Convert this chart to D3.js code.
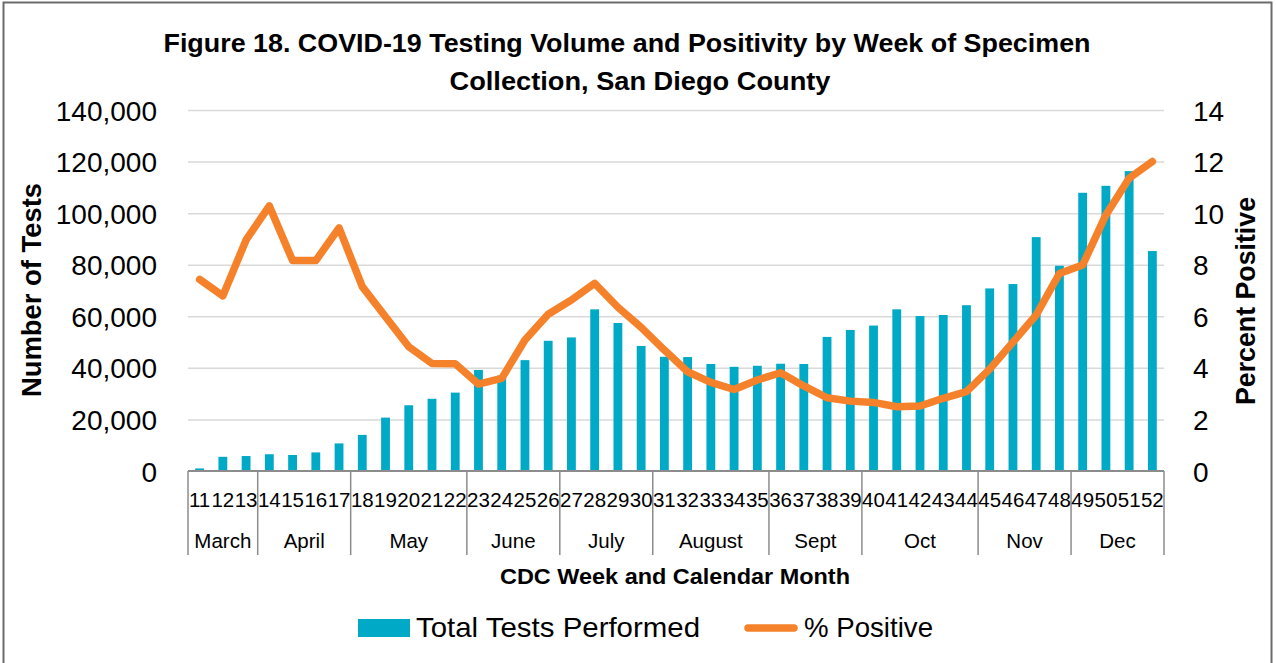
<!DOCTYPE html>
<html>
<head>
<meta charset="utf-8">
<script src="https://cdn.jsdelivr.net/npm/d3@7/dist/d3.min.js"></script>
<style>
  html, body { margin: 0; padding: 0; background: #fff; }
  svg { display: block; font-family: "Liberation Sans", Arial, sans-serif; }
</style>
</head>
<body>
<svg id="chart" width="1276" height="663"></svg>
<script>
// ---- data ----
const weeks = ["11","12","13","14","15","16","17","18","19","20","21","22","23","24","25","26","27","28","29","30","31","32","33","34","35","36","37","38","39","40","41","42","43","44","45","46","47","48","49","50","51","52"];
const totalTests = [1000,5500,5800,6500,6200,7200,10700,14000,20700,25500,28000,30400,39200,37000,43000,50500,51800,62700,57400,48500,44300,44200,41500,40400,40800,41600,41500,52000,54700,56400,62700,60100,60500,64300,70800,72500,90700,79600,107900,110600,116300,85300];
const pctPositive = [7.43,6.79,8.96,10.28,8.16,8.16,9.43,7.15,5.98,4.82,4.17,4.16,3.37,3.59,5.08,6.08,6.63,7.28,6.35,5.57,4.69,3.85,3.44,3.16,3.53,3.81,3.30,2.84,2.71,2.66,2.49,2.52,2.82,3.08,3.95,5.00,6.05,7.66,7.99,9.93,11.35,12.00];
const months = ["March","April","May","June","July","August","Sept","Oct","Nov","Dec"];
const monthFirstWeek = ["11","14","18","23","27","31","36","40","45","49"];
const monthLastWeek = ["13","17","22","26","30","35","39","44","48","52"];
const leftTicks = [0,20000,40000,60000,80000,100000,120000,140000];
const rightTicks = [0,2,4,6,8,10,12,14];

// ---- layout ----
const svg = d3.select("#chart");
const X0 = 188, X1 = 1164, Y0 = 471, Y1 = 110;
const barColor = "#00AAC6", lineColor = "#F5822A";

svg.append("rect").attr("x", 3.5).attr("y", 2.5).attr("width", 1268).attr("height", 700)
  .attr("fill", "#fff").attr("stroke", "#6b6b6b").attr("stroke-width", 2);

const x = d3.scaleBand().domain(weeks).range([X0, X1]).paddingInner(0.62).paddingOuter(0.31);
const yL = d3.scaleLinear().domain([0, 140000]).range([Y0, Y1]);
const yR = d3.scaleLinear().domain([0, 14]).range([Y0, Y1]);
const cx = w => x(w) + x.bandwidth() / 2;
const step = x.step();

function fit(sel, len) { sel.attr("textLength", len).attr("lengthAdjust", "spacingAndGlyphs"); return sel; }

// gridlines
const gridAxis = d3.axisLeft(yL).tickValues(leftTicks.slice(1)).tickSize(-(X1 - X0)).tickFormat("");
svg.append("g").attr("transform", `translate(${X0},0)`).call(gridAxis)
  .call(g => g.select(".domain").remove())
  .call(g => g.selectAll("line").attr("stroke", "#d9d9d9").attr("stroke-width", 1.5));

// left axis labels
svg.append("g").attr("transform", `translate(${X0},0)`)
  .call(d3.axisLeft(yL).tickValues(leftTicks).tickSize(0).tickPadding(31).tickFormat(d3.format(",")))
  .call(g => g.select(".domain").remove())
  .call(g => g.selectAll("text").attr("font-size", 28).attr("fill", "#000").attr("font-family", "Liberation Sans, Arial, sans-serif").attr("dy", "0.36em"));

// right axis labels
svg.append("g").attr("transform", `translate(${X1},0)`)
  .call(d3.axisRight(yR).tickValues(rightTicks).tickSize(0).tickPadding(29).tickFormat(d3.format("d")))
  .call(g => g.select(".domain").remove())
  .call(g => g.selectAll("text").attr("font-size", 28).attr("fill", "#000").attr("font-family", "Liberation Sans, Arial, sans-serif").attr("dy", "0.36em"));

// bars
svg.append("g").selectAll("rect").data(weeks).join("rect")
  .attr("x", w => x(w)).attr("width", x.bandwidth())
  .attr("y", (w, i) => yL(totalTests[i]))
  .attr("height", (w, i) => Y0 - yL(totalTests[i]))
  .attr("fill", barColor);

// x axis line
svg.append("line").attr("x1", X0).attr("x2", X1).attr("y1", Y0).attr("y2", Y0)
  .attr("stroke", "#8c8c8c").attr("stroke-width", 2);

// month separators
const bounds = monthFirstWeek.map(w => x(w) - (step - x.bandwidth()) / 2).concat([X1]);
svg.append("g").selectAll("line").data(bounds).join("line")
  .attr("x1", d => d).attr("x2", d => d).attr("y1", Y0).attr("y2", 555)
  .attr("stroke", "#8c8c8c").attr("stroke-width", 1.5);

// week labels
svg.append("g").selectAll("text").data(weeks).join("text")
  .attr("x", w => cx(w)).attr("y", 507).attr("text-anchor", "middle")
  .attr("font-size", 20.5).attr("fill", "#000").text(w => w);

// month labels
svg.append("g").selectAll("text").data(months).join("text")
  .attr("x", (m, i) => (cx(monthFirstWeek[i]) + cx(monthLastWeek[i])) / 2)
  .attr("y", 548).attr("text-anchor", "middle")
  .attr("font-size", 20.5).attr("fill", "#000").text(m => m);

// line
const line = d3.line().x((d, i) => cx(weeks[i])).y(d => yR(d));
svg.append("path").datum(pctPositive).attr("d", line)
  .attr("fill", "none").attr("stroke", lineColor).attr("stroke-width", 7.5)
  .attr("stroke-linejoin", "round").attr("stroke-linecap", "round");

// titles
fit(svg.append("text").attr("x", 627).attr("y", 52).attr("text-anchor", "middle")
  .attr("font-size", 25).attr("font-weight", "bold")
  .text("Figure 18. COVID-19 Testing Volume and Positivity by Week of Specimen"), 927);
fit(svg.append("text").attr("x", 640).attr("y", 90).attr("text-anchor", "middle")
  .attr("font-size", 25).attr("font-weight", "bold")
  .text("Collection, San Diego County"), 381);

fit(svg.append("text").attr("transform", "translate(41,290) rotate(-90)").attr("text-anchor", "middle")
  .attr("font-size", 28).attr("font-weight", "bold").text("Number of Tests"), 214);
fit(svg.append("text").attr("transform", "translate(1255,301) rotate(-90)").attr("text-anchor", "middle")
  .attr("font-size", 28).attr("font-weight", "bold").text("Percent Positive"), 208);

fit(svg.append("text").attr("x", 675).attr("y", 584).attr("text-anchor", "middle")
  .attr("font-size", 22).attr("font-weight", "bold").text("CDC Week and Calendar Month"), 350);

// legend
svg.append("rect").attr("x", 358).attr("y", 619).attr("width", 52).attr("height", 18).attr("fill", barColor);
fit(svg.append("text").attr("x", 416).attr("y", 637).attr("font-size", 28).text("Total Tests Performed"), 284);
svg.append("line").attr("x1", 748).attr("x2", 794).attr("y1", 628).attr("y2", 628)
  .attr("stroke", lineColor).attr("stroke-width", 7.5).attr("stroke-linecap", "round");
fit(svg.append("text").attr("x", 804).attr("y", 637).attr("font-size", 28).text("% Positive"), 129);
</script>
</body>
</html>
